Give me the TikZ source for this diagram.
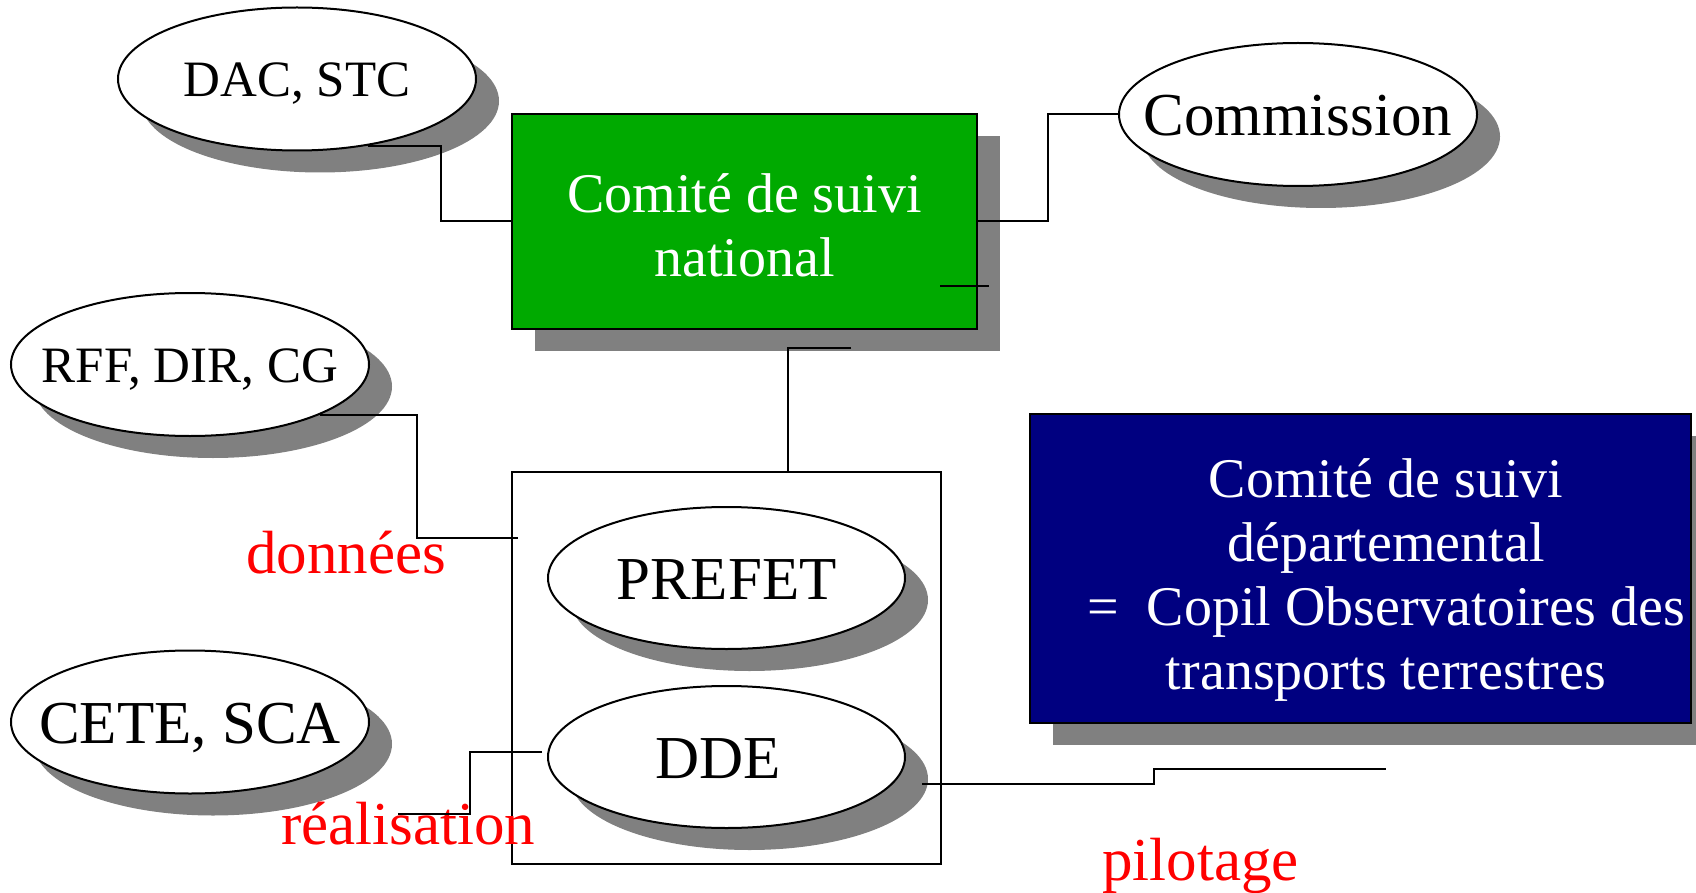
\documentclass[tikz,border=0pt]{standalone}
\usepackage{fontspec}
\setmainfont{Liberation Serif}
\usetikzlibrary{shapes.geometric,shadows}
\definecolor{shadowgray}{RGB}{128,128,128}
\definecolor{boxgreen}{RGB}{0,170,0}
\definecolor{boxnavy}{RGB}{0,0,128}
\definecolor{labred}{RGB}{255,0,0}
\newcommand\ovaltext[1]{\makebox[0pt]{\raisebox{-0.35em}[0pt][0pt]{#1}}}
\begin{document}
\begin{tikzpicture}[x=1pt,y=-1pt,
  shad/.style={drop shadow={shadow xshift=23pt,shadow yshift=-22pt,fill=shadowgray,opacity=1}},
  oval/.style={ellipse,draw=black,line width=2pt,fill=white,inner sep=0pt,
    minimum width=358pt,minimum height=143pt,shad},
  bigfont/.style={font=\fontsize{61}{70}\selectfont},
  smallfont/.style={font=\fontsize{51}{60}\selectfont},
  boxfont/.style={font=\fontsize{56}{64}\selectfont},
  panel/.style={rectangle,draw=black,line width=2pt,inner sep=0pt,shad},
  conn/.style={line width=2pt,line join=miter},
  redlab/.style={text=labred,inner sep=0pt,anchor=base west,font=\fontsize{61}{70}\selectfont}
]
\useasboundingbox (0,0) rectangle (1696,893);

% ellipses on the left and top
\node[oval,smallfont] (dac) at (297,79) {\ovaltext{DAC, STC}};
\node[oval,bigfont] (com) at (1298,114.5) {\ovaltext{Commission}};
\node[oval,smallfont] (rff) at (190,364.5) {\ovaltext{RFF, DIR, CG}};
\node[oval,bigfont] (cete) at (190,722) {\ovaltext{CETE, SCA}};

% national committee
\node[panel,fill=boxgreen,minimum width=465pt,minimum height=215pt,
  text=white,align=center,boxfont] (csn) at (744.5,221.5) {\rule{0pt}{47pt}Comité de suivi\\national};

% departmental frame
\node[rectangle,draw=black,line width=2pt,minimum width=429pt,minimum height=392pt] (dep) at (726.5,668) {};
\node[oval,bigfont,minimum width=357pt,minimum height=142pt] (prefet) at (726.5,578) {\ovaltext{PREFET}};
\node[oval,bigfont,minimum width=357pt,minimum height=142pt] (dde) at (726.5,757) {\ovaltext{DDE\hspace{16pt}}};

% departmental committee
\node[panel,fill=boxnavy,minimum width=661pt,minimum height=309pt] (csd) at (1360.5,568.5) {};
\node[text=white,align=center,boxfont,inner sep=0pt] (csdtext) at (1386,579.5)
  {Comité de suivi\\départemental\\=\ \ Copil Observatoires des\\transports terrestres};

% red labels
\node[redlab] (donnees) at (246,573) {données};
\node[redlab] (realisation) at (281,844) {réalisation};
\node[redlab] (pilotage) at (1102,880) {pilotage};

% connectors
\draw[conn] (dac.-43) -| (441,221.5) -- (csn.west);
\draw[conn] (csn.east) -| (1048,114.5) -- (com.west);
\coordinate (tickA) at (940,286);
\coordinate (tickB) at (989,286);
\draw[conn] (tickA) -- (tickB);
\coordinate (csnfoot) at (851,348);
\draw[conn] (csnfoot) -| (788,472);
\draw[conn] (rff.-21.5) -| (417,538) -- (518,538);
\coordinate (r1) at (542,752);
\coordinate (r2) at (398,814);
\draw[conn] (r1) -| (470,814) -- (r2);
\coordinate (p1) at (922,784);
\coordinate (p2) at (1386,769);
\draw[conn] (p1) -| (1154,769) -- (p2);
\end{tikzpicture}
\end{document}
